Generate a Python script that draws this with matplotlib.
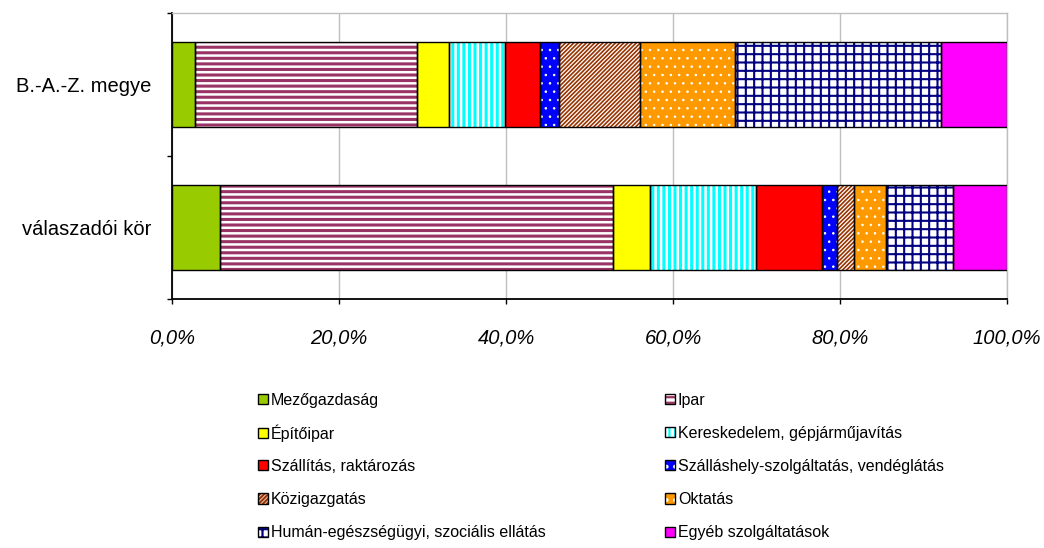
import numpy as np
import matplotlib
matplotlib.use("Agg")
import matplotlib.pyplot as plt

plt.rcParams['font.family'] = ['Liberation Sans', 'DejaVu Sans']
plt.rcParams['hatch.linewidth'] = 1.6

# kategóriák (alulról felfelé)
categories = ['válaszadói kör', 'B.-A.-Z. megye']

sectors = ['Mezőgazdaság', 'Ipar', 'Építőipar', 'Kereskedelem, gépjárműjavítás',
           'Szállítás, raktározás', 'Szálláshely-szolgáltatás, vendéglátás',
           'Közigazgatás', 'Oktatás', 'Humán-egészségügyi, szociális ellátás',
           'Egyéb szolgáltatások']

# megoszlás, %
valaszadoi = [5.7, 47.1, 4.4, 12.7, 7.9, 1.9, 2.0, 3.8, 8.0, 6.5]
baz = [2.8, 26.6, 3.8, 6.7, 4.2, 2.2, 9.7, 11.4, 24.7, 7.9]

xticks = [0, 20, 40, 60, 80, 100]

# stílusok
face = ['#99CC00', 'white', '#FFFF00', 'white', '#FF0000', '#0000FF',
        'white', '#FF9900', 'white', '#FF00FF']
hatch_col = ['black', '#993366', 'black', '#00FFFF', 'black', 'white',
             '#993300', 'white', '#000080', 'black']
hatches = [None, '---', None, '|||', None, '..', '////////', '..', '++', None]
hatch_lw = [1, 2.2, 1, 2.2, 1, 0.6, 1.2, 0.6, 1.5, 1]

fig = plt.figure(figsize=(10.44, 5.48), dpi=100)
W, H = 1044, 548
ax = fig.add_axes([172 / W, 1 - 299 / H, (1007 - 172) / W, (299 - 13) / H])

y = np.arange(len(categories))
left = np.zeros(len(categories))
handles = []
for i, name in enumerate(sectors):
    vals = np.array([valaszadoi[i], baz[i]])
    hb = ax.barh(y, vals, left=left, height=0.59, color=face[i],
                 edgecolor=hatch_col[i], linewidth=0, hatch=hatches[i], zorder=2)
    for p in hb.patches:
        if hasattr(p, 'set_hatch_linewidth'):
            p.set_hatch_linewidth(hatch_lw[i])
    ob = ax.barh(y, vals, left=left, height=0.59, facecolor='none',
                 edgecolor='black', linewidth=1.0, zorder=3)
    handles.append((hb.patches[0], ob.patches[0]))
    left += vals

ax.set_xlim(0, 100)
ax.set_ylim(-0.5, 1.5)
ax.set_xticks(xticks)
ax.set_xticklabels([f"{v:.1f}%".replace('.', ',') for v in xticks],
                   fontsize=14.5, fontstyle='italic')
ax.tick_params(axis='x', length=3.5, width=1, pad=18)

ax.set_yticks([-0.5, 0.5, 1.5])
ax.set_yticklabels([])
ax.set_yticks(y, categories, minor=True)
ax.tick_params(axis='y', which='major', length=3.5, width=1)
ax.tick_params(axis='y', which='minor', length=0, pad=15, labelsize=14.5)

ax.xaxis.grid(True, color='#BFBFBF', linewidth=1)
ax.set_axisbelow(True)

for s in ['left', 'bottom']:
    ax.spines[s].set_linewidth(1.3)
    ax.spines[s].set_color('black')
for s in ['top', 'right']:
    ax.spines[s].set_linewidth(1)
    ax.spines[s].set_color('#BFBFBF')

# jelmagyarázat: két oszlop, soronként egyenletes távolság
col_x = [258, 665]
row_y0, row_dy = 400, 33.2
for i, name in enumerate(sectors):
    r, c = divmod(i, 2)
    fig.legend(handles=[handles[i]], labels=[name], loc='center left',
               bbox_to_anchor=(col_x[c] / W, 1 - (row_y0 + r * row_dy) / H),
               frameon=False, fontsize=11.5, handlelength=0.6, handleheight=0.6,
               handletextpad=0.2, borderpad=0, borderaxespad=0)

fig.savefig('out.png', dpi=100)
